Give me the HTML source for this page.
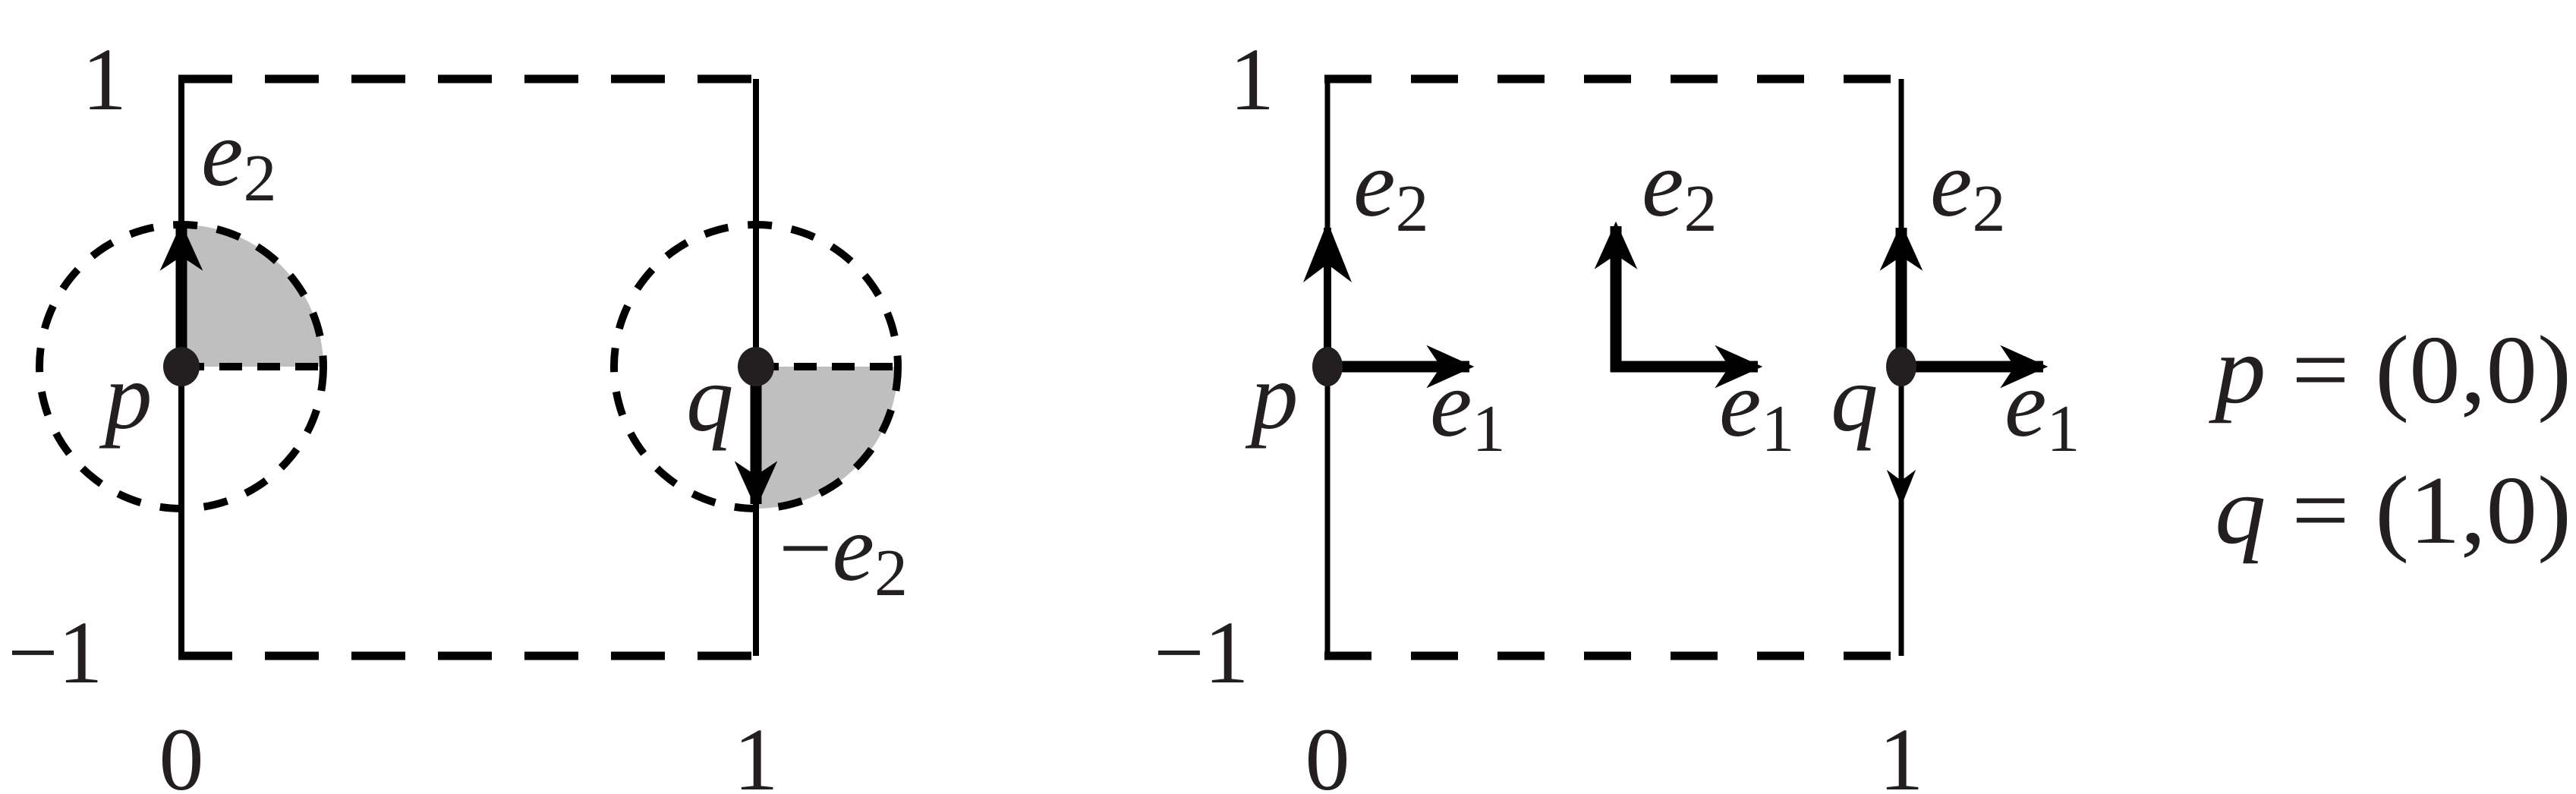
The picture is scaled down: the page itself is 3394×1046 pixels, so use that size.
<!DOCTYPE html>
<html><head><meta charset="utf-8"><style>
html,body{margin:0;padding:0;background:#fff;}
svg{display:block;}
text{font-family:"Liberation Serif",serif;fill:#231f20;}
.it{font-style:italic;}
</style></head><body>
<svg id="fig" width="3394" height="1046" viewBox="0 0 3394 1046" xmlns="http://www.w3.org/2000/svg">
<defs>
<marker id="ah" viewBox="0 0 10 10" refX="9" refY="5" markerWidth="4.2" markerHeight="4.2" orient="auto" markerUnits="strokeWidth"><path d="M0,0.5 L10,5 L0,9.5 L3,5 Z" fill="#000"/></marker>
<marker id="ahs" viewBox="0 0 10 10" refX="9" refY="5" markerWidth="8" markerHeight="8" orient="auto" markerUnits="strokeWidth"><path d="M0,1 L10,5 L0,9 L3,5 Z" fill="#000"/></marker>
</defs>
<g>
<path d="M239,483 L239,296 A187,187 0 0 1 426,483 Z" fill="#bfbfbf"/>
<path d="M996,483 L1183,483 A187,187 0 0 1 996,670 Z" fill="#bfbfbf"/>
<circle cx="239" cy="483" r="187" fill="none" stroke="#000" stroke-width="10" stroke-dasharray="32,26"/>
<circle cx="996" cy="483" r="187" fill="none" stroke="#000" stroke-width="10" stroke-dasharray="32,26"/>
<line x1="239" y1="483" x2="426" y2="483" stroke="#000" stroke-width="10" stroke-dasharray="30,20"/>
<line x1="996" y1="483" x2="1183" y2="483" stroke="#000" stroke-width="10" stroke-dasharray="30,20"/>
<line x1="239" y1="104" x2="239" y2="864" stroke="#000" stroke-width="8"/>
<line x1="996" y1="104" x2="996" y2="864" stroke="#000" stroke-width="8"/>
<line x1="235" y1="104" x2="1000" y2="104" stroke="#000" stroke-width="11" stroke-dasharray="71,43"/>
<line x1="235" y1="864" x2="1000" y2="864" stroke="#000" stroke-width="11" stroke-dasharray="71,43"/>
<line x1="239" y1="483" x2="239" y2="300" stroke="#000" stroke-width="15" marker-end="url(#ah)"/>
<line x1="996" y1="483" x2="996" y2="664" stroke="#000" stroke-width="15" marker-end="url(#ah)"/>
<ellipse cx="239" cy="483" rx="24" ry="26" fill="#231f20"/>
<ellipse cx="996" cy="483" rx="24" ry="26" fill="#231f20"/>
<text x="108" y="144" font-size="118">1</text>
<text x="10" y="899" font-size="118">−1</text>
<text x="239" y="1040" font-size="118" text-anchor="middle">0</text>
<text x="996" y="1040" font-size="118" text-anchor="middle">1</text>
<text x="265" y="244" font-size="125" class="it">e<tspan font-size="88" font-style="normal" dy="20">2</tspan></text>
<text x="138" y="564" font-size="125" class="it">p</text>
<text x="904" y="567" font-size="125" class="it">q</text>
<text x="1026" y="764" font-size="125"><tspan>−</tspan><tspan class="it">e</tspan><tspan font-size="88" dy="20">2</tspan></text>
</g>
<g>
<line x1="1749" y1="104" x2="1749" y2="864" stroke="#000" stroke-width="7"/>
<line x1="2505" y1="104" x2="2505" y2="864" stroke="#000" stroke-width="7"/>
<line x1="1745" y1="104" x2="2509" y2="104" stroke="#000" stroke-width="11" stroke-dasharray="62,52"/>
<line x1="1745" y1="864" x2="2509" y2="864" stroke="#000" stroke-width="11" stroke-dasharray="62,52"/>
<line x1="1749" y1="483" x2="1749" y2="300" stroke="#000" stroke-width="10" marker-end="url(#ahs)"/>
<line x1="1749" y1="483" x2="1936" y2="483" stroke="#000" stroke-width="15" marker-end="url(#ah)"/>
<line x1="2129" y1="490" x2="2129" y2="298" stroke="#000" stroke-width="15" marker-end="url(#ah)"/>
<line x1="2122" y1="483" x2="2316" y2="483" stroke="#000" stroke-width="15" marker-end="url(#ah)"/>
<line x1="2505" y1="483" x2="2505" y2="300" stroke="#000" stroke-width="15" marker-end="url(#ah)"/>
<line x1="2505" y1="483" x2="2692" y2="483" stroke="#000" stroke-width="15" marker-end="url(#ah)"/>
<line x1="2505" y1="483" x2="2505" y2="662" stroke="#000" stroke-width="6" marker-end="url(#ahs)"/>
<ellipse cx="1749" cy="483" rx="20" ry="26" fill="#231f20"/>
<ellipse cx="2505" cy="483" rx="20" ry="26" fill="#231f20"/>
<text x="1620" y="144" font-size="118">1</text>
<text x="1520" y="899" font-size="118">−1</text>
<text x="1749" y="1040" font-size="118" text-anchor="middle">0</text>
<text x="2505" y="1040" font-size="118" text-anchor="middle">1</text>
<text x="1783" y="284" font-size="125" class="it">e<tspan font-size="88" font-style="normal" dy="20">2</tspan></text>
<text x="2163" y="284" font-size="125" class="it">e<tspan font-size="88" font-style="normal" dy="20">2</tspan></text>
<text x="2543" y="284" font-size="125" class="it">e<tspan font-size="88" font-style="normal" dy="20">2</tspan></text>
<text x="1884" y="574" font-size="125" class="it">e<tspan font-size="88" font-style="normal" dy="20">1</tspan></text>
<text x="2265" y="574" font-size="125" class="it">e<tspan font-size="88" font-style="normal" dy="20">1</tspan></text>
<text x="2641" y="574" font-size="125" class="it">e<tspan font-size="88" font-style="normal" dy="20">1</tspan></text>
<text x="1648" y="564" font-size="125" class="it">p</text>
<text x="2412" y="567" font-size="125" class="it">q</text>
</g>
<g>
<text x="2918" y="530" font-size="128" textLength="470" lengthAdjust="spacingAndGlyphs"><tspan class="it">p</tspan> = (0,0)</text>
<text x="2918" y="715" font-size="128" textLength="470" lengthAdjust="spacingAndGlyphs"><tspan class="it">q</tspan> = (1,0)</text>
</g>
</svg>
</body></html>
